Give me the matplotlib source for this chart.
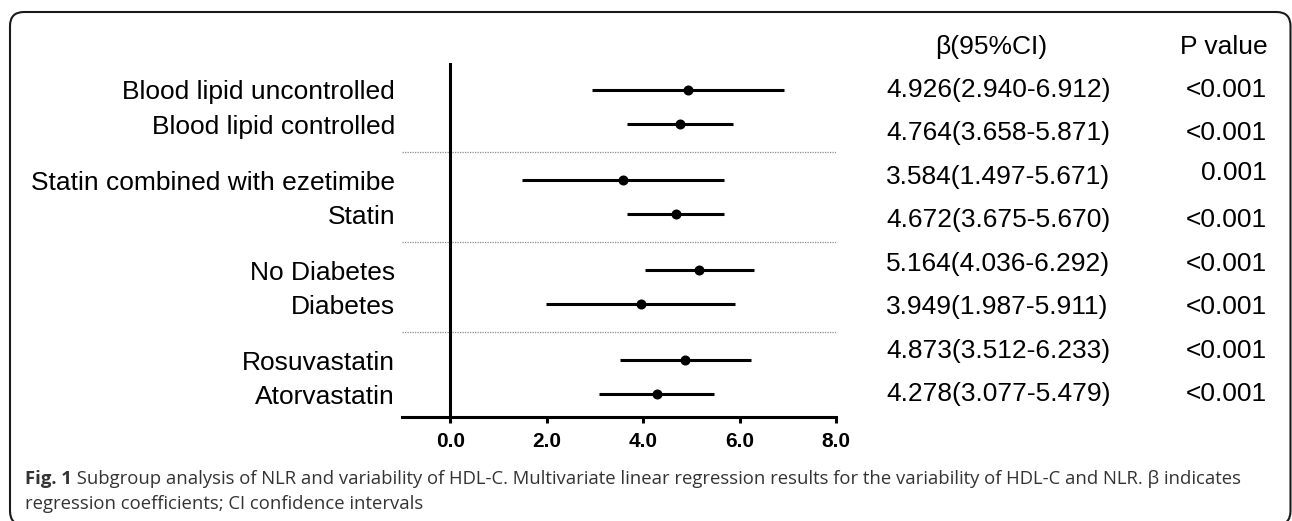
import numpy as np
import matplotlib
matplotlib.use("Agg")
import matplotlib.pyplot as plt
from matplotlib.patches import FancyBboxPatch

# ---------------- data ----------------
labels = ["Blood lipid uncontrolled", "Blood lipid controlled",
          "Statin combined with ezetimibe", "Statin",
          "No Diabetes", "Diabetes",
          "Rosuvastatin", "Atorvastatin"]
beta = [4.926, 4.764, 3.584, 4.672, 5.164, 3.949, 4.873, 4.278]
ci_low = [2.940, 3.658, 1.497, 3.675, 4.036, 1.987, 3.512, 3.077]
ci_high = [6.912, 5.871, 5.671, 5.670, 6.292, 5.911, 6.233, 5.479]
p_values = ["<0.001", "<0.001", "0.001", "<0.001", "<0.001", "<0.001", "<0.001", "<0.001"]
xticks = [0, 2, 4, 6, 8]
xtick_labels = ["0.0", "2.0", "4.0", "6.0", "8.0"]
col_headers = ["\u03b2(95%CI)", "P value"]
caption_bold = "Fig. 1"
caption_line1 = (" Subgroup analysis of NLR and variability of HDL-C. Multivariate linear "
                 "regression results for the variability of HDL-C and NLR. \u03b2 indicates")
caption_line2 = "regression coefficients; CI confidence intervals"

# ---------------- layout ----------------
W, H = 1292, 521
fig = plt.figure(figsize=(W / 100, H / 100), dpi=100)

# rows in groups of two with a larger gap between groups
group_gap = 1.647
n = len(labels)
ypos = np.array([(i // 2) * (1 + group_gap) + (i % 2) for i in range(n)])
seps = [(ypos[2 * g + 1] + ypos[2 * g + 2]) / 2 for g in range(n // 2 - 1)]

ax_left, ax_right = 402, 836
ax_top, ax_bot = 63, 417
ax = fig.add_axes([ax_left / W, 1 - ax_bot / H, (ax_right - ax_left) / W, (ax_bot - ax_top) / H])
ax.set_xlim(-1, 8)
ax.set_ylim(ypos[-1] + 0.676, ypos[0] - 0.794)

LW = 2.2
ax.hlines(seps, -1, 8, colors="#8a8a8a", linestyles=(0, (1, 1)), lw=0.9, zorder=1)
ax.axvline(0, color="black", lw=LW, zorder=2)
ax.hlines(ypos, ci_low, ci_high, colors="black", lw=LW, zorder=3)
ax.plot(beta, ypos, "o", color="black", ms=6.2, zorder=4)

for s in ["top", "right", "left"]:
    ax.spines[s].set_visible(False)
ax.spines["bottom"].set_linewidth(LW)
ax.set_xticks(xticks, xtick_labels)
ax.tick_params(axis="x", width=LW, length=4.5, pad=6, labelsize=15)
for t in ax.get_xticklabels():
    t.set_fontweight("bold")
    t.set_family("Liberation Sans")
ax.set_yticks(ypos, labels)
ax.tick_params(axis="y", length=0, pad=5, labelsize=19)
for t in ax.get_yticklabels():
    t.set_family("Liberation Sans")

# table columns
px = lambda p: -1 + (p - ax_left) * 9 / (ax_right - ax_left)
row_y = np.linspace(ypos[0], ypos[-1], n)
head_y = row_y[0] - (row_y[1] - row_y[0])
tfont = dict(family="Liberation Sans", fontsize=19, color="black", va="center")
ax.text(px(991), head_y, col_headers[0], ha="center", **tfont)
ax.text(px(1268), head_y, col_headers[1], ha="right", **tfont)
for i in range(n):
    ax.text(px(886), row_y[i], f"{beta[i]:.3f}({ci_low[i]:.3f}-{ci_high[i]:.3f})", ha="left", **tfont)
    dy = -0.1 if p_values[i] == "0.001" else 0
    ax.text(px(1267), row_y[i] + dy, p_values[i], ha="right", **tfont)

# caption
cfont = dict(family="Open Sans", fontsize=13.3, color="#333333")
tb = fig.text(25 / W, 1 - 484 / H, caption_bold, fontweight="bold", va="baseline", **cfont)
fig.canvas.draw()
ax.annotate(caption_line1, xy=(1, 0), xycoords=tb, va="bottom", ha="left",
            annotation_clip=False, **cfont)
fig.text(25 / W, 1 - 509 / H, caption_line2, va="baseline", **cfont)

# rounded frame
frame = FancyBboxPatch((10 / 100, -4 / 100), 1280.5 / 100, (H - 12 + 4) / 100,
                       boxstyle="round,pad=0,rounding_size=0.14",
                       transform=fig.dpi_scale_trans, fill=False,
                       edgecolor="#1a1a1a", lw=1.5, clip_on=False)
fig.add_artist(frame)

fig.savefig("out.png", dpi=100)
